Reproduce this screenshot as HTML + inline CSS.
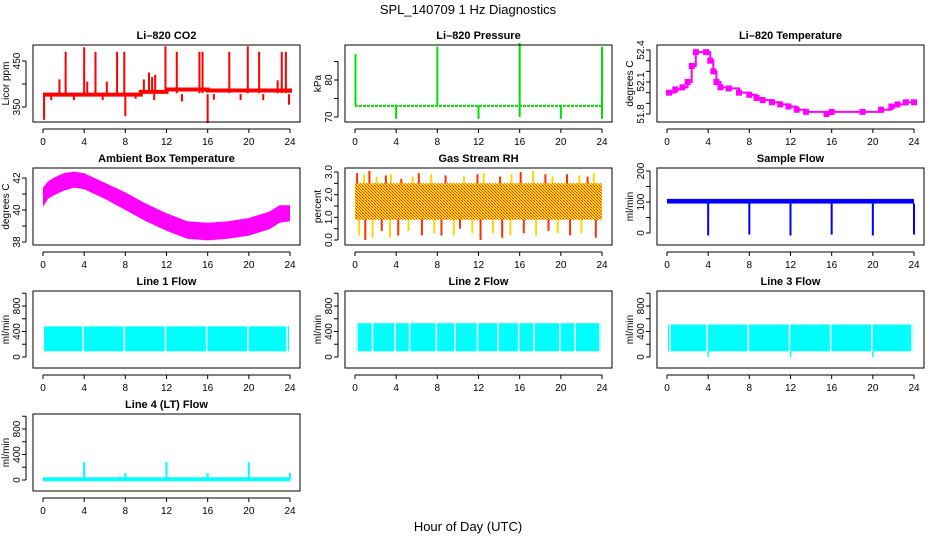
<!DOCTYPE html>
<html><head><meta charset="utf-8"><style>
html,body{margin:0;padding:0;background:#fff}
svg{display:block;font-family:"Liberation Sans","DejaVu Sans",sans-serif}
</style></head><body>
<svg id="chart" width="936" height="540" viewBox="0 0 936 540" xmlns="http://www.w3.org/2000/svg">
<defs>
<pattern id="rhpat" width="3" height="3" patternUnits="userSpaceOnUse">
<rect width="3" height="3" fill="#ffd700"/><rect width="1" height="1" fill="#ff2000"/><rect x="2" y="2" width="1" height="1" fill="#ff2000"/><rect x="1" y="1" width="1" height="1" fill="#f07000"/>
</pattern>
</defs>
<text x="468" y="14" font-size="13" text-anchor="middle">SPL_140709  1 Hz Diagnostics</text>
<text x="468" y="531" font-size="13" text-anchor="middle">Hour of Day (UTC)</text>
</svg>
<script>
// ---- data arrays ----
const xTicks = [0,4,8,12,16,20,24];
// CO2
const co2BaseHours = [0,8,9.5,12,16,24];
const co2BaseVals = [377,377,383,388,386,381];
const co2SpikeHours = [1.6,2.2,4.0,4.3,5.1,6.2,7.2,7.9,9.8,10.3,10.6,10.9,11.9,13.0,15.2,15.5,18.1,19.9,21.0,22.8,23.2,23.6];
const co2SpikeVals = [410,470,480,405,470,405,470,470,410,425,415,420,482,470,470,470,470,482,470,408,470,470];
const co2DipHours = [0.1,0.8,3.0,5.8,8.0,9.0,10.8,13.5,16.0,16.6,19.2,21.4,23.9];
const co2DipVals = [322,365,365,365,330,368,365,362,315,366,365,365,355];
// Pressure
const presBase = 73;
const presSpikeHours = [0.05,8.0,16.0,24.0];
const presSpikeVals = [87,89,90,89];
const presDipHours = [4.0,12.0,16.0,20.0,24.0];
const presDipVals = [69.5,69.5,70,69.5,69.5];
// Li-820 temperature
const ltHours = [0.2,0.8,1.5,2.0,2.4,2.8,3.8,4.2,4.5,4.8,5.2,6.0,7.0,8.0,8.7,9.3,10.2,11.0,11.8,12.6,13.5,15.5,16.0,19.0,20.8,21.8,22.4,23.2,24.0];
const ltVals = [52.0,52.03,52.05,52.1,52.25,52.38,52.38,52.3,52.2,52.1,52.05,52.04,52.0,51.98,51.95,51.93,51.91,51.89,51.87,51.84,51.82,51.8,51.82,51.82,51.84,51.87,51.89,51.91,51.91];
// Ambient box temperature
const ambHours = [0,0.5,1,2,3,4,5,6,8,10,12,14,16,18,20,22,23,24];
const ambLow = [40.2,40.7,40.9,41.2,41.4,41.3,41.0,40.7,40.0,39.3,38.7,38.2,38.1,38.2,38.4,38.8,39.2,39.3];
const ambHigh = [41.4,41.8,42.0,42.3,42.4,42.3,42.0,41.7,41.1,40.4,39.8,39.3,39.2,39.3,39.5,39.9,40.3,40.3];
// Gas stream RH
const rhBandLow = 0.9, rhBandHigh = 2.5;
const rhUpHours = [0.2,0.9,1.4,2.1,3.0,3.5,4.5,5.6,6.2,7.4,8.8,10.6,11.9,12.5,14.1,15.2,16.1,17.3,18.5,19.2,20.6,21.8,22.6,23.2];
const rhUpVals = [2.95,2.9,3.05,2.8,2.85,2.9,2.7,2.8,2.95,2.9,2.85,2.8,2.9,2.95,2.8,2.9,3.0,3.05,2.9,2.8,2.9,2.85,2.8,2.95];
const rhDnHours = [0.4,1.0,1.7,2.6,3.4,4.2,5.2,6.5,7.7,8.4,9.6,10.2,11.4,12.2,13.4,14.3,15.1,16.4,17.6,18.8,19.7,20.9,22.0,23.4];
const rhDnVals = [0.2,0.0,0.1,0.4,0.1,0.2,0.4,0.2,0.3,0.2,0.2,0.5,0.3,0.0,0.3,0.1,0.2,0.3,0.2,0.4,0.3,0.2,0.3,0.1];
// Sample flow
const sfLow = 95, sfHigh = 110;
const sfDropHours = [4,8,12,16,20,24];
const sfDropVals = [-8,-5,-8,-5,-8,-5];
// Line flows
const l1Low = 90, l1High = 480;
const l1GapHours = [3.9,7.9,11.9,15.9,19.9,23.7];
const l2Low = 90, l2High = 530;
const l2GapHours = [0.2,1.7,3.9,5.3,7.9,9.7,11.9,13.9,15.9,17.4,19.9,21.4,23.8];
const l3Low = 90, l3High = 510;
const l3GapHours = [0.3,3.9,7.9,11.9,15.9,19.9,23.8];
const l3DipHours = [4.0,12.0,20.0];
const l3DipVals = [0,0,0];
const l4Base = 12;
const l4SpikeHours = [4,8,12,16,20,24];
const l4SpikeVals = [280,110,280,110,280,110];

// ---- layout ----
const svg = document.getElementById('chart');
const NS = 'http://www.w3.org/2000/svg';
const colX0 = [43,355,667];
const rowTop = [45,168,291,414];
function el(tag, attrs, parent){
  const e = document.createElementNS(NS, tag);
  for (const k in attrs) e.setAttribute(k, attrs[k]);
  (parent||svg).appendChild(e);
  return e;
}
function makePanel(name, col, row, title, ylab, v1, off1, v2, off2, ticks, labels, dec){
  const g = el('g', {});
  
  
  const x0 = colX0[col], top = rowTop[row];
  const left = x0 - 10, right = x0 + 257, bottom = top + 77;
  const xs = h => x0 + h / 24 * 247;
  const ys = v => top + off1 + (v - v1) * (off2 - off1) / (v2 - v1);
  const t = el('text', {x:(left+right)/2, y:top-6, 'font-size':11, 'font-weight':'bold', 'text-anchor':'middle'}, g);
  t.textContent = title;
  
  
  const yl = el('text', {transform:`translate(${left-24},${(top+bottom)/2}) rotate(-90)`, 'font-size':10, 'text-anchor':'middle'}, g);
  yl.textContent = ylab;
  
  
  const xa = el('g', {}, g);
  
  
  el('line', {x1:xs(0), x2:xs(24), y1:bottom+7, y2:bottom+7, stroke:'#000'}, xa);
  xTicks.forEach(h => {
    el('line', {x1:xs(h), x2:xs(h), y1:bottom+7, y2:bottom+11, stroke:'#000'}, xa);
    const tl = el('text', {x:xs(h), y:bottom+23, 'font-size':10, 'text-anchor':'middle'}, xa);
    tl.textContent = h;
  });
  const ya = el('g', {}, g);
  
  
  el('line', {x1:left-7, x2:left-7, y1:ys(ticks[0]), y2:ys(ticks[ticks.length-1]), stroke:'#000'}, ya);
  ticks.forEach(v => el('line', {x1:left-11, x2:left-7, y1:ys(v), y2:ys(v), stroke:'#000'}, ya));
  labels.forEach(v => {
    const tl = el('text', {transform:`translate(${left-13},${ys(v)}) rotate(-90)`, 'font-size':10, 'text-anchor':'middle'}, ya);
    tl.textContent = v.toFixed(dec||0);
  });
  const plot = el('g', {}, g);
  
  
  el('rect', {x:left, y:top, width:right-left, height:bottom-top, fill:'none', stroke:'#000'}, g);
  return {xs, ys, plot};
}
function vline(p, x, y1, y2, color, w){ el('line', {x1:x, x2:x, y1:y1, y2:y2, stroke:color, 'stroke-width':w||2}, p); }
function stepPath(p, hours, vals, xs, ys, color, w){
  let d = `M${xs(hours[0])},${ys(vals[0])}`;
  for (let i=1;i<hours.length;i++) d += ` H${xs(hours[i])} V${ys(vals[i])}`;
  el('path', {d, fill:'none', stroke:color, 'stroke-width':w||2}, p);
}
function band(p, xs, ys, h0, h1, lo, hi, fill){
  el('rect', {x:xs(h0), y:ys(hi), width:xs(h1)-xs(h0), height:ys(lo)-ys(hi), fill}, p);
}

let P = makePanel('co2',0,0,'Li\u2013820 CO2','Licor ppm',350,62,450,16,[350,400,450],[350,450]);
stepPath(P.plot, co2BaseHours, co2BaseVals, P.xs, P.ys, '#ff0000', 4);
co2SpikeHours.forEach((h,i)=>vline(P.plot, P.xs(h), P.ys(380), P.ys(co2SpikeVals[i]), '#ff0000', 2));
co2DipHours.forEach((h,i)=>vline(P.plot, P.xs(h), P.ys(378), P.ys(co2DipVals[i]), '#ff0000', 2));

P = makePanel('pressure',1,0,'Li\u2013820 Pressure','kPa',70,72,80,35,[70,75,80,85],[70,80]);
el('line',{x1:P.xs(0),x2:P.xs(24),y1:P.ys(presBase),y2:P.ys(presBase),stroke:'#00e000','stroke-width':2,'stroke-dasharray':'3,1'},P.plot);
presSpikeHours.forEach((h,i)=>vline(P.plot, P.xs(h), P.ys(presBase), P.ys(presSpikeVals[i]), '#00e000', 2));
presDipHours.forEach((h,i)=>vline(P.plot, P.xs(h), P.ys(presBase), P.ys(presDipVals[i]), '#00e000', 2));

P = makePanel('li820-temp',2,0,'Li\u2013820 Temperature','degrees C',51.8,69,52.4,5,[51.8,51.9,52.0,52.1,52.2,52.3,52.4],[51.8,52.1,52.4],1);
stepPath(P.plot, ltHours, ltVals, P.xs, P.ys, '#ff00ff', 2);
ltHours.forEach((h,i)=>el('rect',{x:P.xs(h)-3,y:P.ys(ltVals[i])-3,width:6,height:6,fill:'#ff00ff'},P.plot));

P = makePanel('ambient-temp',0,1,'Ambient Box Temperature','degrees C',38,74,42,10,[38,39,40,41,42],[38,40,42]);
{
  let d = `M${P.xs(ambHours[0])},${P.ys(ambHigh[0])}`;
  for (let i=1;i<ambHours.length;i++) d += ` L${P.xs(ambHours[i])},${P.ys(ambHigh[i])}`;
  for (let i=ambHours.length-1;i>=0;i--) d += ` L${P.xs(ambHours[i])},${P.ys(ambLow[i])}`;
  el('path',{d:d+'Z',fill:'#ff00ff'},P.plot);
}

P = makePanel('gas-rh',1,1,'Gas Stream RH','percent',0,72,3,4,[0,0.5,1,1.5,2,2.5,3],[0,1,2,3],1);
rhUpHours.forEach((h,i)=>vline(P.plot, P.xs(h), P.ys(2), P.ys(rhUpVals[i]), i%2?'#ffd700':'#ff3000', 2));
rhDnHours.forEach((h,i)=>vline(P.plot, P.xs(h), P.ys(1.5), P.ys(rhDnVals[i]), i%2?'#ff3000':'#ffd700', 2));
band(P.plot, P.xs, P.ys, 0, 24, rhBandLow, rhBandHigh, 'url(#rhpat)');

P = makePanel('sample-flow',2,1,'Sample Flow','ml/min',0,65,200,3,[0,50,100,150,200],[0,100,200]);
band(P.plot, P.xs, P.ys, 0, 24, sfLow, sfHigh, '#0000ff');
sfDropHours.forEach((h,i)=>vline(P.plot, P.xs(h), P.ys(sfLow), P.ys(sfDropVals[i]), '#0000ff', 2));

const flowTicks=[0,200,400,600,800,1000], flowLabels=[0,400,800];
function flowPanel(name,col,row,title,lo,hi,gaps){
  const Q = makePanel(name,col,row,title,'ml/min',0,66,800,15,flowTicks,flowLabels);
  band(Q.plot, Q.xs, Q.ys, 0.1, 23.9, lo, hi, '#00ffff');
  gaps.forEach(h=>vline(Q.plot, Q.xs(h), Q.ys(lo), Q.ys(hi), '#ffffff', 1.5));
  return Q;
}
flowPanel('line1-flow',0,2,'Line 1 Flow',l1Low,l1High,l1GapHours);
flowPanel('line2-flow',1,2,'Line 2 Flow',l2Low,l2High,l2GapHours);
P = flowPanel('line3-flow',2,2,'Line 3 Flow',l3Low,l3High,l3GapHours);
l3DipHours.forEach((h,i)=>vline(P.plot, P.xs(h), P.ys(l3Low), P.ys(l3DipVals[i]), '#00ffff', 1.5));
P = makePanel('line4-flow',0,3,'Line 4 (LT) Flow','ml/min',0,66,800,15,flowTicks,flowLabels);
el('line',{x1:P.xs(0),x2:P.xs(24),y1:P.ys(l4Base),y2:P.ys(l4Base),stroke:'#00ffff','stroke-width':4},P.plot);
l4SpikeHours.forEach((h,i)=>vline(P.plot, P.xs(h), P.ys(l4Base), P.ys(l4SpikeVals[i]), '#00ffff', 2));
</script>
</body></html>
